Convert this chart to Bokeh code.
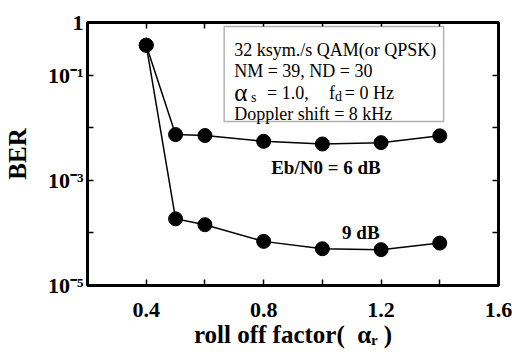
import json
import math
from bokeh.plotting import figure
from bokeh.models import (FixedTicker, LogAxis, LinearAxis, Label, BoxAnnotation,
                          CustomJSTickFormatter, Range1d)
from bokeh.embed import file_html
from bokeh.resources import INLINE

# ---- data ----
roll_off = [0.4, 0.5, 0.6, 0.8, 1.0, 1.2, 1.4]
ber_6db = [0.37, 7.4e-3, 7.1e-3, 5.5e-3, 4.9e-3, 5.2e-3, 7.0e-3]
ber_9db = [0.37, 1.85e-4, 1.43e-4, 6.9e-5, 5.0e-5, 4.8e-5, 6.4e-5]
x_major_ticks = [0.4, 0.8, 1.2, 1.6]
x_minor_ticks = [0.6, 1.0, 1.4]
y_ticks = [1e-5, 1e-4, 1e-3, 1e-2, 1e-1, 1.0]
y_label_exponents = [0, -1, -3, -5]
info_lines = ["32 ksym./s QAM(or QPSK)", "NM = 39, ND = 30", None, "Doppler shift = 8 kHz"]
x_title = "roll off factor(\u00a0\u00a0\u03b1\u1d63 )"
y_title = "BER"

FONT = "Liberation Serif"
X0, X1 = 0.2, 1.6
Y0, Y1 = 1e-5, 1.0
W, H = 512, 354

# frame geometry (canvas pixels)
FL, FR, FT, FB = 86, 498, 22, 285


def sx(px):
    return X0 + (px - FL) / (FR - FL) * (X1 - X0)


def sy(py):
    dec = math.log10(Y1) - (py - FT) / (FB - FT) * (math.log10(Y1) - math.log10(Y0))
    return 10 ** dec


p = figure(width=W, height=H, x_range=Range1d(X0, X1), y_range=Range1d(Y0, Y1),
           y_axis_type="log", output_backend="svg", toolbar_location=None,
           min_border_left=FL, min_border_right=W - FR,
           min_border_top=FT, min_border_bottom=H - FB)
p.grid.visible = False
p.outline_line_color = "black"
p.outline_line_width = 3
p.background_fill_color = "white"
p.border_fill_color = "white"

blank = CustomJSTickFormatter(code="return ''")

SUP = {"-": "\u207b", "0": "\u2070", "1": "\u00b9", "2": "\u00b2", "3": "\u00b3",
       "4": "\u2074", "5": "\u2075", "6": "\u2076", "7": "\u2077", "8": "\u2078", "9": "\u2079"}
y_labels = {}
for e in y_label_exponents:
    y_labels[str(e)] = "1" if e == 0 else "10" + "".join(SUP[c] for c in str(e))
y_fmt = CustomJSTickFormatter(code="""
const labels = %s;
const e = Math.round(Math.log10(tick));
const k = String(e);
return (k in labels) ? labels[k] : '';
""" % json.dumps(y_labels))


def style_x(ax):
    ax.ticker = FixedTicker(ticks=x_major_ticks, minor_ticks=x_minor_ticks)
    ax.major_tick_in = 6
    ax.major_tick_out = 0
    ax.minor_tick_in = 6
    ax.minor_tick_out = 0
    ax.major_tick_line_width = 1.5
    ax.minor_tick_line_width = 1.5
    ax.axis_line_color = None


def style_y(ax):
    ax.ticker = FixedTicker(ticks=y_ticks)
    ax.major_tick_in = 6
    ax.major_tick_out = 0
    ax.minor_tick_line_color = None
    ax.major_tick_line_width = 1.5
    ax.axis_line_color = None


bx = p.xaxis[0]
style_x(bx)
bx.major_label_text_font = FONT
bx.major_label_text_font_style = "bold"
bx.major_label_text_font_size = "22px"
bx.major_label_text_color = "black"
bx.major_label_standoff = 17
bx.axis_label = x_title
bx.axis_label_text_font = FONT
bx.axis_label_text_font_style = "bold"
bx.axis_label_text_font_size = "25px"
bx.axis_label_text_color = "black"
bx.axis_label_standoff = 1

tx = LinearAxis()
style_x(tx)
tx.formatter = blank
p.add_layout(tx, "above")

ly = p.yaxis[0]
style_y(ly)
ly.formatter = y_fmt
ly.major_label_text_font = FONT
ly.major_label_text_font_style = "bold"
ly.major_label_text_font_size = "22px"
ly.major_label_text_color = "black"
ly.major_label_standoff = 4
ly.axis_label = y_title
ly.axis_label_text_font = FONT
ly.axis_label_text_font_style = "bold"
ly.axis_label_text_font_size = "25px"
ly.axis_label_text_color = "black"
ly.axis_label_standoff = 14

ry = LogAxis()
style_y(ry)
ry.formatter = blank
p.add_layout(ry, "right")

# curves
for ys in (ber_6db, ber_9db):
    p.line(roll_off, ys, line_color="black", line_width=1.5)
    p.scatter(roll_off, ys, size=14, fill_color="black", line_color="black")


def lab(px, py, text, size, bold=True, align="left", baseline="alphabetic"):
    p.add_layout(Label(x=sx(px), y=sy(py), text=text, text_font=FONT,
                       text_font_style="bold" if bold else "normal",
                       text_font_size=size, text_align=align,
                       text_baseline=baseline, text_color="black"))


# info box
p.add_layout(BoxAnnotation(left=sx(223), right=sx(443), top=sy(26), bottom=sy(121),
                           fill_color="white", fill_alpha=1.0, line_color="black",
                           line_width=1.5))
baselines = [49, 70.5, 92, 113.5]
for txt, b in zip(info_lines, baselines):
    if txt:
        lab(233, b, txt, "18px", bold=False)
lab(233, 92, "\u03b1", "25px", bold=False)
lab(250, 97, "s", "14px", bold=False)
lab(266, 92, "= 1.0,", "18px", bold=False)
lab(328, 92, "f", "18px", bold=False)
lab(334, 96, "d", "14px", bold=False)
lab(344, 92, "= 0 Hz", "18px", bold=False)

# curve annotations
lab(325, 167, "Eb/N0 = 6 dB", "19px", align="center", baseline="middle")
lab(360, 232, "9 dB", "19px", align="center", baseline="middle")

open("out.html", "w").write(file_html(p, INLINE))
